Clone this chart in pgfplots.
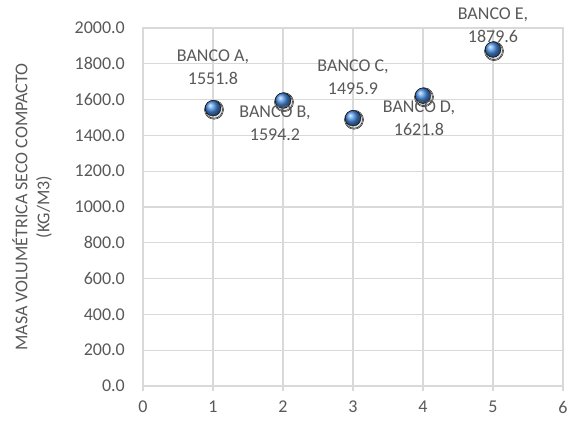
\documentclass[border=0pt]{standalone}
\usepackage{fontspec}
\setmainfont{Carlito}
\usepackage{pgfplots}
\usepackage{pgfplotstable}
\pgfplotsset{compat=1.18}
\definecolor{txt}{HTML}{595959}
\definecolor{gridc}{HTML}{D9D9D9}
\definecolor{ballblue}{HTML}{4A8FE4}

% x, density, bank letter, label offset (dx, dy)
\pgfplotstableread{
x y name dx dy
1 1551.8 A 0 41.5
2 1594.2 B -8 -23
3 1495.9 C 0 41.5
4 1621.8 D -4 -23
5 1879.6 E 0 24
}\bancos

\begin{document}
\fontsize{18}{22}\selectfont
\begin{tikzpicture}[x=1pt,y=1pt]
\useasboundingbox (0,0) rectangle (571,-423);
\begin{axis}[
  at={(143pt,-386pt)}, anchor=south west,
  width=420pt, height=358pt, scale only axis,
  xmin=0, xmax=6, ymin=0, ymax=2000,
  xtick={0,...,6}, ytick={0,200,...,2000},
  grid=major, major grid style={gridc, line width=1.2pt},
  axis line style={gridc, line width=1.2pt},
  xtick pos=bottom, xtick align=outside, major tick length=5pt,
  xtick style={gridc, line width=1.2pt},
  ytick style={draw=none},
  tick label style={txt},
  /pgf/number format/assume math mode=true,
  /pgf/number format/1000 sep={},
  yticklabel={\pgfmathprintnumber[fixed,fixed zerofill,precision=1]{\tick}},
  yticklabel style={xshift=-12pt},
  xticklabel style={yshift=-4pt},
  ylabel={MASA VOLUMÉTRICA SECO COMPACTO\\(KG/M3)},
  every axis y label/.style={at={(axis description cs:-0.264,0.5)}, rotate=90, anchor=center, align=center, txt},
]
% soft shadow under the markers, two faint layers
\addplot[only marks, mark=*, mark size=9.5pt,
  mark options={draw=none, fill=black, fill opacity=0.05, xshift=1pt, yshift=-1.5pt}]
  table[x=x, y=y] {\bancos};
\addplot[only marks, mark=*, mark size=8.5pt,
  mark options={draw=none, fill=black, fill opacity=0.07, xshift=1pt, yshift=-1.5pt}]
  table[x=x, y=y] {\bancos};
\addplot[only marks, mark=ball, mark size=7.8pt, mark options={ball color=ballblue},
  point meta=explicit symbolic,
  visualization depends on={\thisrow{y}\as\yv},
  visualization depends on={\thisrow{dx}\as\dx},
  visualization depends on={\thisrow{dy}\as\dy},
  nodes near coords={BANCO \pgfplotspointmeta,\\\pgfmathprintnumber[fixed,fixed zerofill,precision=1]{\yv}},
  every node near coord/.append style={anchor=center, align=center, xshift=\dx pt, yshift=\dy pt, txt, font=\fontsize{18}{23}\selectfont},
] table[x=x, y=y, meta=name] {\bancos};
\end{axis}
\end{tikzpicture}
\end{document}
